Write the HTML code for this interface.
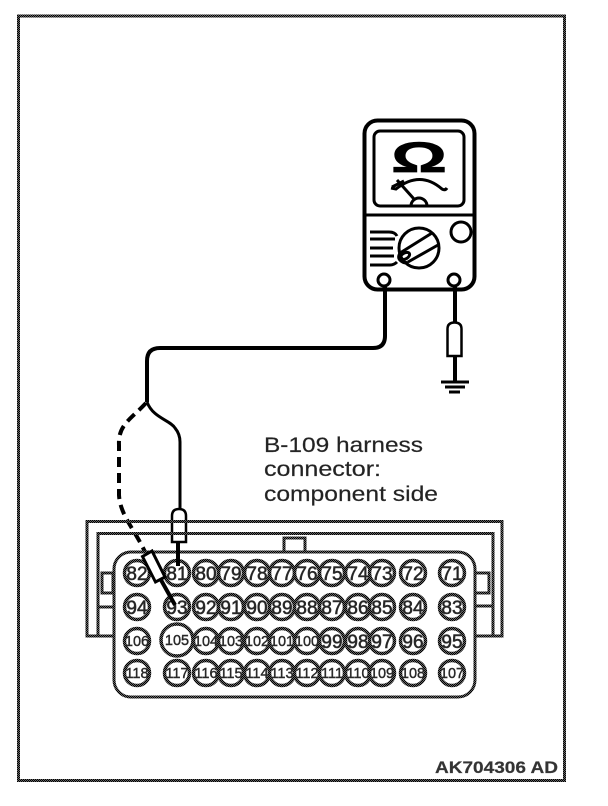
<!DOCTYPE html>
<html><head><meta charset="utf-8"><style>
html,body{margin:0;padding:0;background:#fff}
svg{display:block}
text{font-family:"Liberation Sans",sans-serif}
.p circle{fill:#fff;stroke:url(#d);stroke-width:3.500}
.p text{font-size:19px;fill:#222;text-anchor:middle;stroke:#333;stroke-width:.6}
.s text{font-size:14.500px;stroke-width:.45}
.k{fill:none;stroke:#000;stroke-width:3}
.b{fill:none;stroke:#000;stroke-width:4}
.c{fill:none;stroke:url(#d);stroke-width:3}
.t{stroke:#444;stroke-width:.25}
</style></head><body>
<svg width="608" height="806" viewBox="0 0 608 806" xmlns="http://www.w3.org/2000/svg">
<defs><pattern id="d" width="2" height="2" patternUnits="userSpaceOnUse"><rect width="2" height="2" fill="#666"/><rect width="1" height="1" fill="#000"/><rect x="1" y="1" width="1" height="1" fill="#000"/></pattern></defs>
<rect width="608" height="806" fill="#fff"/>
<rect x="18.500" y="16" width="546" height="764.500" fill="none" stroke="url(#d)" stroke-width="3"/>

<!-- meter -->
<rect x="364.500" y="120.500" width="110" height="169" rx="13" class="b"/>
<rect x="374" y="131" width="90" height="75" rx="6" class="k"/>
<line x1="365" y1="215" x2="474" y2="215" class="k"/>
<text transform="translate(419 172) scale(1.62 1)" text-anchor="middle" font-size="43" font-weight="bold" fill="#000" stroke="#000" stroke-width=".7">Ω</text>
<path d="M391 188 L396 189 Q420 170 442 189 Q445 191 447 188" class="k" stroke-width="2.500"/>
<line x1="397" y1="180" x2="414" y2="199" class="k"/>
<line x1="392" y1="187" x2="404" y2="181" class="k" stroke-width="2"/>
<path d="M411 206 A8 8 0 0 1 427 206" class="k"/>
<circle cx="419" cy="248" r="20" class="k"/>
<line x1="400" y1="253" x2="432" y2="233" class="k"/>
<line x1="408" y1="262" x2="438" y2="245" class="k"/>
<path d="M400 253 Q397 258 401 261 Q405 264 408 262" class="k"/>
<ellipse cx="405" cy="256" rx="5" ry="3" transform="rotate(-30 405 256)" class="k" stroke-width="2"/>
<circle cx="461" cy="232" r="10" class="k"/>
<path d="M370 232 H389 Q395 232 397 236 M370 239 H395 M370 248 H393 M370 256 H394 M370 265 H390 Q394 265 397 262" class="k" stroke-width="2.500"/>
<circle cx="384" cy="280" r="6" class="k"/>
<circle cx="454" cy="280" r="6" class="k"/>

<!-- wires -->
<path d="M385 286 V336 Q385 348 373 348 H160 Q147 348 147 361 V402" class="b"/>
<path d="M147 402 C153 418 170 420 175 428 Q180 434 180 442 V510" class="k"/>
<path d="M146 403 C130 420 118 425 119 445 V495 C120 515 135 530 145 552" fill="none" stroke="#000" stroke-width="4" stroke-dasharray="10 6"/>
<path d="M172 542 V516 Q172 509 179 509 Q186 509 186 516 V542 Z" fill="#fff" stroke="#000" stroke-width="2.500"/>
<path d="M455 286 V323" class="b"/>
<path d="M447.500 356 V329 Q447.500 322.500 454.500 322.500 Q461.500 322.500 461.500 329 V356 Z" fill="#fff" stroke="#000" stroke-width="2.500"/>
<path d="M455 356 V382" class="b"/>
<path d="M441 382 H469 M445 387 H465 M449 392 H460" class="k"/>

<!-- connector -->
<path d="M113 636 H87 V521.500 H502 V636 H475" class="c"/>
<path d="M98 636 V533.500 H493 V636" class="c"/>
<rect x="284" y="538" width="21" height="14" class="c"/>
<rect x="102" y="573" width="11" height="20" class="c"/>
<rect x="475" y="573" width="14" height="20" class="c"/>
<path d="M98 607 H113 M475 606 H493" class="c"/>
<rect x="114" y="552" width="361" height="145" rx="17" fill="#fff" stroke="url(#d)" stroke-width="3"/>

<g class="p">
<circle cx="137" cy="573" r="12.500"/><text x="137" y="580">82</text>
<circle cx="177" cy="573" r="12.500"/><text x="177" y="580">81</text>
<circle cx="206" cy="573" r="12.500"/><text x="206" y="580">80</text>
<circle cx="231" cy="573" r="12.500"/><text x="231" y="580">79</text>
<circle cx="257" cy="573" r="12.500"/><text x="257" y="580">78</text>
<circle cx="282" cy="573" r="12.500"/><text x="282" y="580">77</text>
<circle cx="307" cy="573" r="12.500"/><text x="307" y="580">76</text>
<circle cx="332" cy="573" r="12.500"/><text x="332" y="580">75</text>
<circle cx="358" cy="573" r="12.500"/><text x="358" y="580">74</text>
<circle cx="382" cy="573" r="12.500"/><text x="382" y="580">73</text>
<circle cx="413" cy="573" r="12.500"/><text x="413" y="580">72</text>
<circle cx="452" cy="573" r="12.500"/><text x="452" y="580">71</text>

<circle cx="137" cy="607" r="12.500"/><text x="137" y="614">94</text>
<circle cx="177" cy="607" r="12.500"/><text x="177" y="614">93</text>
<circle cx="206" cy="607" r="12.500"/><text x="206" y="614">92</text>
<circle cx="231" cy="607" r="12.500"/><text x="231" y="614">91</text>
<circle cx="257" cy="607" r="12.500"/><text x="257" y="614">90</text>
<circle cx="282" cy="607" r="12.500"/><text x="282" y="614">89</text>
<circle cx="307" cy="607" r="12.500"/><text x="307" y="614">88</text>
<circle cx="332" cy="607" r="12.500"/><text x="332" y="614">87</text>
<circle cx="358" cy="607" r="12.500"/><text x="358" y="614">86</text>
<circle cx="382" cy="607" r="12.500"/><text x="382" y="614">85</text>
<circle cx="413" cy="607" r="12.500"/><text x="413" y="614">84</text>
<circle cx="452" cy="607" r="12.500"/><text x="452" y="614">83</text>

<circle cx="332" cy="641" r="12.500"/><text x="332" y="648">99</text>
<circle cx="358" cy="641" r="12.500"/><text x="358" y="648">98</text>
<circle cx="382" cy="641" r="12.500"/><text x="382" y="648">97</text>
<circle cx="413" cy="641" r="12.500"/><text x="413" y="648">96</text>
<circle cx="452" cy="641" r="12.500"/><text x="452" y="648">95</text>

<g class="s">
<circle cx="137" cy="641" r="12.500"/><text x="137" y="646">106</text>
<circle cx="177" cy="673" r="12.500"/><text x="177" y="678">117</text>
<circle cx="177" cy="640" r="16"/><text x="177" y="645">105</text>
<circle cx="206" cy="641" r="12.500"/><text x="206" y="646">104</text>
<circle cx="231" cy="641" r="12.500"/><text x="231" y="646">103</text>
<circle cx="257" cy="641" r="12.500"/><text x="257" y="646">102</text>
<circle cx="282" cy="641" r="12.500"/><text x="282" y="646">101</text>
<circle cx="307" cy="641" r="12.500"/><text x="307" y="646">100</text>

<circle cx="137" cy="673" r="12.500"/><text x="137" y="678">118</text>
<circle cx="206" cy="673" r="12.500"/><text x="206" y="678">116</text>
<circle cx="231" cy="673" r="12.500"/><text x="231" y="678">115</text>
<circle cx="257" cy="673" r="12.500"/><text x="257" y="678">114</text>
<circle cx="282" cy="673" r="12.500"/><text x="282" y="678">113</text>
<circle cx="307" cy="673" r="12.500"/><text x="307" y="678">112</text>
<circle cx="332" cy="673" r="12.500"/><text x="332" y="678">111</text>
<circle cx="358" cy="673" r="12.500"/><text x="358" y="678">110</text>
<circle cx="382" cy="673" r="12.500"/><text x="382" y="678">109</text>
<circle cx="413" cy="673" r="12.500"/><text x="413" y="678">108</text>
<circle cx="452" cy="673" r="12.500"/><text x="452" y="678">107</text>
</g>
</g>

<!-- probes over connector -->
<line x1="178" y1="541" x2="178" y2="566" class="b"/>
<path d="M142.500 556.500 L152 551 L165 577 L155.500 582 Z" fill="#fff" stroke="#000" stroke-width="3"/>
<line x1="161" y1="580" x2="175" y2="605" class="b"/>

<text class="t" x="264" y="452" font-size="21" fill="#222" textLength="159" lengthAdjust="spacingAndGlyphs">B-109 harness</text>
<text class="t" x="264" y="476" font-size="21" fill="#222" textLength="117" lengthAdjust="spacingAndGlyphs">connector:</text>
<text class="t" x="264" y="501" font-size="21" fill="#222" textLength="174" lengthAdjust="spacingAndGlyphs">component side</text>
<text class="t" x="435" y="773" font-size="17" font-weight="bold" fill="#333" textLength="123" lengthAdjust="spacingAndGlyphs">AK704306 AD</text>
</svg>
</body></html>
